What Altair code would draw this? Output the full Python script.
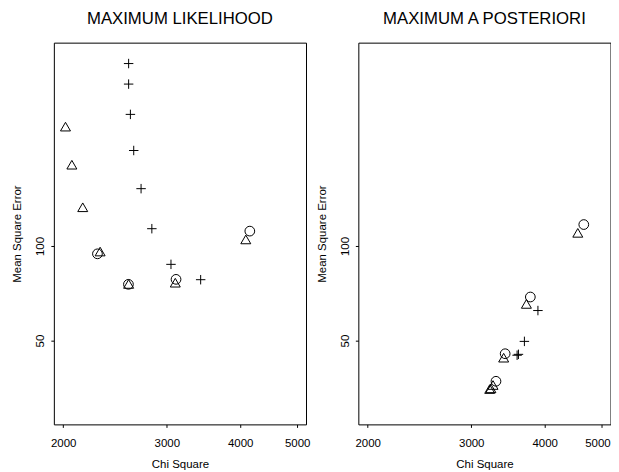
import altair as alt
import pandas as pd

# ---- data (log-log axes) ----
ml_plus_x = [2584, 2584, 2602, 2636, 2713, 2830, 3050, 3426]
ml_plus_y = [380.7, 327.5, 262.3, 201.3, 152.2, 113.5, 87.4, 78.1]
ml_tri_x = [2018, 2069, 2159, 2311, 4088, 2584, 3102]
ml_tri_y = [239.8, 181.4, 132.8, 96.0, 104.9, 75.7, 76.4]
ml_circ_x = [2287, 4153, 2582, 3111]
ml_circ_y = [94.4, 111.5, 75.5, 78.3]

map_tri_x = [4553, 3723, 3406, 3267, 3225, 3240]
map_tri_y = [110.1, 65.4, 44.1, 36.1, 35.05, 35.23]
map_circ_x = [4661, 3781, 3426, 3305]
map_circ_y = [117.0, 68.8, 45.4, 37.1]
map_plus_x = [3895, 3694, 3590, 3609]
map_plus_y = [62.3, 49.7, 44.9, 45.2]

x_ticks = [2000, 3000, 4000, 5000]
y_ticks = [50, 100]
titles = ["MAXIMUM LIKELIHOOD", "MAXIMUM A POSTERIORI"]

kinds = ["triangle", "circle", "plus"]
shape_range = ["triangle-up", "circle", "M-1,0H1M0,-1V1"]
size_range = [100, 90, 100]


def frame(tx, ty, cx, cy, px, py):
    rows = []
    for k, xs, ys in (("triangle", tx, ty), ("circle", cx, cy), ("plus", px, py)):
        for a, b in zip(xs, ys):
            rows.append({"chi": a, "mse": b, "kind": k})
    return pd.DataFrame(rows)


FONT = "Liberation Sans"
W, H = 253, 383


def panel(df, title, flush):
    xaxis = dict(
        values=x_ticks, format="d", title="Chi Square",
        tickSize=3, labelPadding=19.5, labelBaseline="alphabetic",
        titleY=43.5, titleBaseline="alphabetic",
    )
    if flush:
        xaxis.update(labelFlush=9.05, labelFlushOffset=8.5)
    pts = alt.Chart(df).mark_point(
        filled=False, color="black", strokeWidth=1, opacity=1
    ).encode(
        x=alt.X(
            "chi:Q",
            scale=alt.Scale(type="log", domain=[1928.1, 5175], nice=False, zero=False),
            axis=alt.Axis(**xaxis),
        ),
        y=alt.Y(
            "mse:Q",
            scale=alt.Scale(type="log", domain=[27.05, 443.7], nice=False, zero=False),
            axis=alt.Axis(
                values=y_ticks, format="d", title="Mean Square Error",
                tickSize=3, labelPadding=7, labelAngle=270, labelAlign="center",
                labelBaseline="alphabetic",
                titleX=-33.3, titleAngle=270, titleBaseline="alphabetic", titleAlign="center",
            ),
        ),
        shape=alt.Shape("kind:N", scale=alt.Scale(domain=kinds, range=shape_range), legend=None),
        size=alt.Size("kind:N", scale=alt.Scale(domain=kinds, range=size_range), legend=None),
    )
    ttl = alt.Chart(pd.DataFrame({"label": [title]})).mark_text(
        font=FONT, fontSize=16.8, color="black", align="center", baseline="alphabetic"
    ).encode(
        text="label:N", x=alt.value(W / 2), y=alt.value(-18.7)
    )
    return alt.layer(pts, ttl).properties(width=W, height=H)


left = panel(frame(ml_tri_x, ml_tri_y, ml_circ_x, ml_circ_y, ml_plus_x, ml_plus_y), titles[0], False)
right = panel(frame(map_tri_x, map_tri_y, map_circ_x, map_circ_y, map_plus_x, map_plus_y), titles[1], True)

chart = alt.hconcat(left, right, spacing=4.5).properties(
    padding={"left": 3, "top": 1, "right": 0, "bottom": 0},
    background="white",
).configure_view(
    stroke="black", strokeWidth=1
).configure_axis(
    grid=False, domain=False, tickColor="black", tickWidth=1,
    labelFont=FONT, labelFontSize=11.5, labelColor="black",
    titleFont=FONT, titleFontSize=11.5, titleFontWeight="normal", titleColor="black",
)

chart.save("out.html", embed_options={"renderer": "svg", "actions": False})
